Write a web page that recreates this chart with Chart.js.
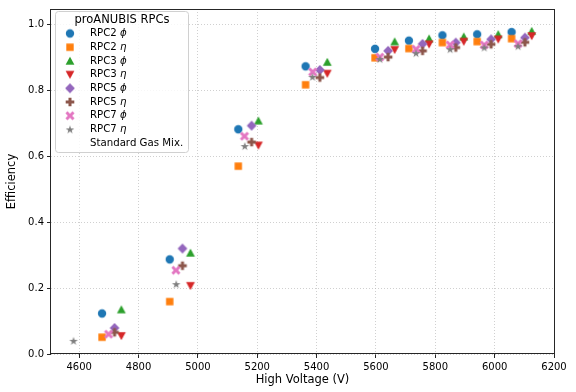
<!DOCTYPE html>
<html>
<head>
<meta charset="utf-8">
<script src="https://cdn.jsdelivr.net/npm/chart.js@4.4.1/dist/chart.umd.min.js"></script>
<style>
  html, body { margin: 0; padding: 0; background: #fff; }
  #wrap { width: 576px; height: 392px; position: relative; }
</style>
</head>
<body>
<div id="wrap"><canvas id="chart"></canvas></div>
<script>
// ─── Data ──────────────────────────────────────────
const xTicks = [4600, 4800, 5000, 5200, 5400, 5600, 5800, 6000, 6200];
const yTicks = [0.0, 0.2, 0.4, 0.6, 0.8, 1.0];

const rpc2V   = [4677, 4905, 5136, 5363, 5597, 5711, 5824, 5941, 6057];
const rpc2Phi = [0.123, 0.287, 0.682, 0.873, 0.926, 0.951, 0.967, 0.970, 0.977];
const rpc2Eta = [0.051, 0.159, 0.570, 0.817, 0.899, 0.927, 0.945, 0.948, 0.957];

const rpc3V   = [4742, 4975, 5204, 5436, 5663, 5779, 5896, 6012, 6125];
const rpc3Phi = [0.135, 0.307, 0.708, 0.886, 0.948, 0.957, 0.963, 0.970, 0.980];
const rpc3Eta = [0.055, 0.207, 0.633, 0.851, 0.923, 0.940, 0.948, 0.955, 0.965];

const rpc5V   = [4719, 4948, 5181, 5411, 5641, 5757, 5869, 5988, 6102];
const rpc5Phi = [0.079, 0.320, 0.693, 0.862, 0.920, 0.941, 0.945, 0.955, 0.960];
const rpc5Eta = [0.066, 0.268, 0.643, 0.839, 0.901, 0.920, 0.930, 0.940, 0.946];

const rpc7PhiV = [4699, 4926, 5157, 5387, 5613, 5735, 5850, 5965, 6079];
const rpc7Phi  = [0.060, 0.254, 0.661, 0.856, 0.901, 0.925, 0.938, 0.938, 0.942];
const rpc7EtaV = [4581, 4927, 5158, 5386, 5613, 5735, 5850, 5965, 6079];
const rpc7Eta  = [0.040, 0.212, 0.631, 0.841, 0.895, 0.913, 0.925, 0.930, 0.934];

const FONT = 'DejaVu Sans';

// ─── Marker images (matplotlib-like shapes) ────────
function marker(shape, color) {
  const s = 14;
  const c = document.createElement('canvas');
  c.width = c.height = s;
  const g = c.getContext('2d');
  g.fillStyle = color;
  g.translate(s / 2, s / 2);
  g.beginPath();
  if (shape === 'o') {
    g.arc(0, 0, 4.2, 0, Math.PI * 2);
  } else if (shape === 's') {
    g.rect(-3.7, -3.7, 7.4, 7.4);
  } else if (shape === '^') {
    g.moveTo(0, -4.2); g.lineTo(4.4, 3.7); g.lineTo(-4.4, 3.7);
  } else if (shape === 'v') {
    g.moveTo(0, 4.2); g.lineTo(4.4, -3.7); g.lineTo(-4.4, -3.7);
  } else if (shape === 'D') {
    g.moveTo(0, -4.9); g.lineTo(4.9, 0); g.lineTo(0, 4.9); g.lineTo(-4.9, 0);
  } else if (shape === 'P' || shape === 'X') {
    if (shape === 'X') g.rotate(Math.PI / 4);
    const a = shape === 'X' ? 5 : 4.3, w = 1.5;
    g.moveTo(-w, -a); g.lineTo(w, -a); g.lineTo(w, -w); g.lineTo(a, -w);
    g.lineTo(a, w); g.lineTo(w, w); g.lineTo(w, a); g.lineTo(-w, a);
    g.lineTo(-w, w); g.lineTo(-a, w); g.lineTo(-a, -w); g.lineTo(-w, -w);
  } else if (shape === '*') {
    const ro = 4.5, ri = ro * 0.382;
    for (let i = 0; i < 10; i++) {
      const r = i % 2 ? ri : ro;
      const ang = -Math.PI / 2 + i * Math.PI / 5;
      const px = r * Math.cos(ang), py = r * Math.sin(ang) + 0.4;
      i ? g.lineTo(px, py) : g.moveTo(px, py);
    }
  }
  g.closePath();
  g.fill();
  return c;
}

const series = [
  { name: 'RPC2 ', greek: 'ϕ', xs: rpc2V,    ys: rpc2Phi, img: marker('o', '#1f77b4') },
  { name: 'RPC2 ', greek: 'η', xs: rpc2V,    ys: rpc2Eta, img: marker('s', '#ff7f0e') },
  { name: 'RPC3 ', greek: 'ϕ', xs: rpc3V,    ys: rpc3Phi, img: marker('^', '#2ca02c') },
  { name: 'RPC3 ', greek: 'η', xs: rpc3V,    ys: rpc3Eta, img: marker('v', '#d62728') },
  { name: 'RPC5 ', greek: 'ϕ', xs: rpc5V,    ys: rpc5Phi, img: marker('D', '#9467bd') },
  { name: 'RPC5 ', greek: 'η', xs: rpc5V,    ys: rpc5Eta, img: marker('P', '#8c564b') },
  { name: 'RPC7 ', greek: 'ϕ', xs: rpc7PhiV, ys: rpc7Phi, img: marker('X', '#e377c2') },
  { name: 'RPC7 ', greek: 'η', xs: rpc7EtaV, ys: rpc7Eta, img: marker('*', '#7f7f7f') }
];

// ─── Plugins: frame + in-plot legend ───────────────
const framePlugin = {
  id: 'frame',
  afterDraw(chart) {
    const { ctx, chartArea: a } = chart;
    ctx.save();
    ctx.strokeStyle = '#262626';
    ctx.lineWidth = 1;
    ctx.strokeRect(Math.round(a.left) - 0.5, Math.round(a.top) + 0.5,
                   Math.round(a.right - a.left) + 1, Math.round(a.bottom - a.top) - 1);
    ctx.restore();
  }
};

const legendPlugin = {
  id: 'mplLegend',
  afterDraw(chart) {
    const ctx = chart.ctx;
    const bx = 55.5, by = 11.5, bw = 133, bh = 141, r = 3;
    ctx.save();
    ctx.beginPath();
    ctx.roundRect(bx, by, bw, bh, r);
    ctx.fillStyle = 'rgba(255,255,255,0.85)';
    ctx.fill();
    ctx.strokeStyle = '#d0d0d0';
    ctx.lineWidth = 1;
    ctx.stroke();

    ctx.fillStyle = '#000';
    ctx.textBaseline = 'middle';
    ctx.textAlign = 'center';
    ctx.font = `11.5px "${FONT}"`;
    ctx.fillText('proANUBIS RPCs', bx + bw / 2, 20.5);

    ctx.textAlign = 'left';
    const rowH = 13.7;
    series.forEach((s, i) => {
      const y = 33.5 + i * rowH;
      ctx.drawImage(s.img, 70 - s.img.width / 2, y - s.img.height / 2);
      ctx.font = `10.2px "${FONT}"`;
      ctx.fillText(s.name, 90, y);
      const w = ctx.measureText(s.name).width;
      ctx.font = `italic 10.2px "${FONT}"`;
      ctx.fillText(s.greek, 90 + w, y);
    });
    ctx.font = `10.2px "${FONT}"`;
    ctx.fillText('Standard Gas Mix.', 90, 33.5 + 8 * rowH);
    ctx.restore();
  }
};

// ─── Chart ─────────────────────────────────────────
const gridColor = 'rgba(176,176,176,0.75)';

new Chart(document.getElementById('chart'), {
  type: 'scatter',
  data: {
    datasets: series.map((s, i) => ({
      label: s.name + s.greek,
      data: s.xs.map((x, j) => ({ x, y: s.ys[j] })),
      pointStyle: s.img,
      pointRadius: 5,
      order: 10 - i
    }))
  },
  options: {
    responsive: true,
    maintainAspectRatio: false,
    animation: false,
    events: [],
    layout: { padding: { top: 8, right: 22, left: 0, bottom: 0 } },
    plugins: { legend: { display: false }, tooltip: { enabled: false } },
    scales: {
      x: {
        type: 'linear',
        min: 4505, max: 6200,
        afterBuildTicks: s => { s.ticks = xTicks.map(v => ({ value: v })); },
        afterFit: s => { s.height = 38; },
        ticks: { color: '#000', font: { family: FONT, size: 10 }, padding: 3, maxRotation: 0,
                 callback: v => String(v) },
        grid: { color: gridColor, lineWidth: 0.8, tickLength: 4, tickColor: '#262626',
                tickWidth: 1, tickBorderDash: [0, 0] },
        border: { display: false, dash: [1, 2] },
        title: { display: true, text: 'High Voltage (V)', color: '#000',
                 font: { family: FONT, size: 11.5 }, padding: { top: 0, bottom: 5 } }
      },
      y: {
        min: 0, max: 1.047,
        afterBuildTicks: s => { s.ticks = yTicks.map(v => ({ value: v })); },
        afterFit: s => { s.width = 51; },
        ticks: { color: '#000', font: { family: FONT, size: 10 }, padding: 3,
                 callback: v => v.toFixed(1) },
        grid: { color: gridColor, lineWidth: 0.8, tickLength: 4, tickColor: '#262626',
                tickWidth: 1, tickBorderDash: [0, 0] },
        border: { display: false, dash: [1, 2] },
        title: { display: true, text: 'Efficiency', color: '#000',
                 font: { family: FONT, size: 11.5 }, padding: { top: 5, bottom: 0 } }
      }
    }
  },
  plugins: [framePlugin, legendPlugin]
});
</script>
</body>
</html>
